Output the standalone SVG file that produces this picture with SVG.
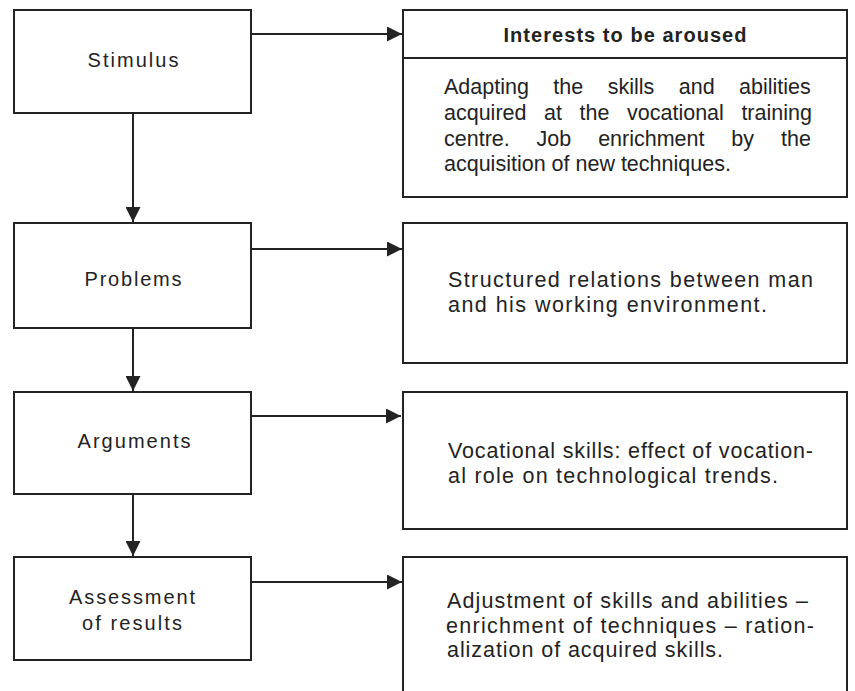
<svg xmlns="http://www.w3.org/2000/svg" width="855" height="691" viewBox="0 0 855 691">
  <style>
    .box { fill: #ffffff; stroke: #232323; stroke-width: 2; }
    .edge { fill: none; stroke: #232323; stroke-width: 2; }
    .label { font-family: "Liberation Sans", Arial, sans-serif; font-size: 20px; fill: #232323; text-anchor: middle; }
    .body { font-family: "Liberation Sans", Arial, sans-serif; font-size: 21.5px; fill: #232323; }
    .head { font-family: "Liberation Sans", Arial, sans-serif; font-size: 20px; font-weight: bold; fill: #232323; text-anchor: middle; }
  </style>
  <defs>
    <marker id="arrow" markerUnits="userSpaceOnUse" viewBox="0 0 15 15" refX="15" refY="7.5" markerWidth="15" markerHeight="15" orient="auto">
      <path d="M0,0 L15,7.5 L0,15 Z" fill="#232323"/>
    </marker>
  </defs>
  <rect width="855" height="691" fill="#ffffff"/>

  <!-- left column: steps -->
  <g id="stimulus">
    <rect class="box" x="14" y="10" width="237" height="103"/>
    <text class="label" x="133" y="67" textLength="91" lengthAdjust="spacing">Stimulus</text>
  </g>
  <g id="problems">
    <rect class="box" x="14" y="223" width="237" height="105"/>
    <text class="label" x="133" y="286" textLength="97" lengthAdjust="spacing">Problems</text>
  </g>
  <g id="arguments">
    <rect class="box" x="14" y="392" width="237" height="102"/>
    <text class="label" x="134" y="448" textLength="113" lengthAdjust="spacing">Arguments</text>
  </g>
  <g id="assessment">
    <rect class="box" x="14" y="557" width="237" height="103"/>
    <text class="label" x="132" y="604" textLength="126" lengthAdjust="spacing">Assessment</text>
    <text class="label" x="132" y="630" textLength="100" lengthAdjust="spacing">of results</text>
  </g>

  <!-- right column: descriptions -->
  <g id="interests">
    <rect class="box" x="403" y="10" width="444" height="187"/>
    <line class="edge" x1="403" y1="58" x2="847" y2="58"/>
    <text class="head" x="625" y="42" textLength="243" lengthAdjust="spacing">Interests to be aroused</text>
    <text class="body" x="444" y="94" word-spacing="18.5">Adapting the skills and abilities</text>
    <text class="body" x="444" y="120" word-spacing="11.6">acquired at the vocational training</text>
    <text class="body" x="444" y="146" word-spacing="20.9">centre. Job enrichment by the</text>
    <text class="body" x="444" y="171">acquisition of new techniques.</text>
  </g>
  <g id="relations">
    <rect class="box" x="403" y="223" width="444" height="140"/>
    <text class="body" x="448" y="287" textLength="365" lengthAdjust="spacing">Structured relations between man</text>
    <text class="body" x="448" y="312" textLength="319" lengthAdjust="spacing">and his working environment.</text>
  </g>
  <g id="skills">
    <rect class="box" x="403" y="392" width="444" height="137"/>
    <text class="body" x="448" y="458" textLength="365" lengthAdjust="spacing">Vocational skills: effect of vocation-</text>
    <text class="body" x="448" y="483" textLength="330" lengthAdjust="spacing">al role on technological trends.</text>
  </g>
  <g id="adjustment">
    <rect class="box" x="403" y="557" width="444" height="200"/>
    <text class="body" x="447" y="608" textLength="361" lengthAdjust="spacing">Adjustment of skills and abilities –</text>
    <text class="body" x="446" y="633" textLength="368" lengthAdjust="spacing">enrichment of techniques – ration-</text>
    <text class="body" x="447" y="657" textLength="276" lengthAdjust="spacing">alization of acquired skills.</text>
  </g>

  <!-- connectors -->
  <g id="connectors">
    <line class="edge" x1="251" y1="34" x2="402" y2="34" marker-end="url(#arrow)"/>
    <line class="edge" x1="251" y1="249" x2="402" y2="249" marker-end="url(#arrow)"/>
    <line class="edge" x1="251" y1="416" x2="401" y2="416" marker-end="url(#arrow)"/>
    <line class="edge" x1="251" y1="582" x2="402" y2="582" marker-end="url(#arrow)"/>
    <line class="edge" x1="133" y1="113" x2="133" y2="222" marker-end="url(#arrow)"/>
    <line class="edge" x1="133" y1="328" x2="133" y2="391" marker-end="url(#arrow)"/>
    <line class="edge" x1="133" y1="494" x2="133" y2="556" marker-end="url(#arrow)"/>
  </g>
</svg>
